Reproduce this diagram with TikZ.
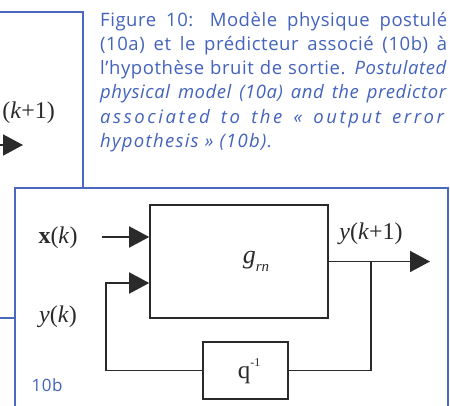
\documentclass[tikz,border=0pt]{standalone}
\usepackage{fontspec}
\setmainfont{Liberation Serif}
\newfontfamily\capfont{Open Sans}[LetterSpace=3]
\usetikzlibrary{arrows.meta}
\definecolor{frameblue}{HTML}{4A68C0}
\definecolor{capblue}{HTML}{4463BD}
\definecolor{ink}{HTML}{2A2A2A}
\tikzset{
  frame/.style={draw=frameblue, line width=1.8pt},
  blk/.style={draw=ink, line width=1.6pt, fill=none, inner sep=0pt},
  wire/.style={draw=ink, line width=1.6pt},
  arr/.style={wire, -{Triangle[length=20pt, width=21pt]}},
  lbl/.style={inner sep=0pt, font=\fontsize{24}{28}\selectfont, text=ink},
  capline/.style={anchor=base west, inner sep=0pt, text=capblue, font=\capfont\fontsize{18.5}{21}\selectfont},
}
\newcommand{\capl}[1]{\makebox[347pt][s]{#1}}
\begin{document}
\begin{tikzpicture}[x=1pt,y=-1pt]
\useasboundingbox (0,0) rectangle (450,405);
\fill[white] (0,0) rectangle (450,405);
% blue frames
\draw[frame] (-5,12) -- (83,12) -- (83,188);
\draw[frame] (15,410) -- (15,188) -- (448,188) -- (448,410);
\draw[frame] (-5,318) -- (15,318);
% top fragment
\node[lbl, anchor=east] (topl) at (55,113) {(\textit{k}+1)};
\coordinate (ta) at (-5,145);
\coordinate (tb) at (23,145);
\draw[arr] (ta) -- (tb);
% caption
\node[capline] (c1) at (100,26) {\capl{Figure 10: Modèle physique postulé}};
\node[capline] (c2) at (100,50) {\capl{(10a) et le prédicteur associé (10b) à}};
\node[capline] (c3) at (100,74) {\capl{l’hypothèse bruit de sortie. \textit{Postulated}}};
\node[capline] (c4) at (100,98.5) {\capl{\textit{physical model (10a) and the predictor}}};
\node[capline] (c5) at (100,123) {\capl{\addfontfeature{LetterSpace=14}\textit{associated to the « output error}}};
\node[capline] (c6) at (100,147.5) {\addfontfeature{LetterSpace=7}\textit{hypothesis » (10b).}};
% blocks
\node[blk, minimum width=178pt, minimum height=113pt] (g) at (239,261.5) {};
\node[lbl] (gl) at (256,261) {\fontsize{26}{30}\selectfont\textit{g}\raisebox{-0.3em}{\fontsize{15}{18}\selectfont\textit{rn}}};
\node[blk, minimum width=85pt, minimum height=57pt] (q) at (245.5,370.5) {};
\node[lbl] (ql) at (249,371) {\fontsize{25}{30}\selectfont q\raisebox{0.5em}{\fontsize{12}{14}\selectfont -1}};
% labels
\node[lbl] (xl) at (58,238) {\textbf{x}(\textit{k})};
\node[lbl] (yl) at (58,317) {\textit{y}(\textit{k})};
\node[lbl] (ol) at (371,234) {\textit{y}(\textit{k}+1)};
\node[inner sep=0pt, text=capblue, font=\capfont\fontsize{17}{19}\selectfont] (tag) at (47,385) {10b};
% connectors
\coordinate (xin) at (102,237);
\draw[arr] (xin) -- (xin -| g.west);
\coordinate (fb) at (106,283);
\draw[arr] (q.west) -| (fb) -- (fb -| g.west);
\coordinate (out) at (430,261.5);
\draw[arr] (g.east) -- (out);
\coordinate (j) at (371,261.5);
\draw[wire] (j) |- (q.east);
\end{tikzpicture}
\end{document}
